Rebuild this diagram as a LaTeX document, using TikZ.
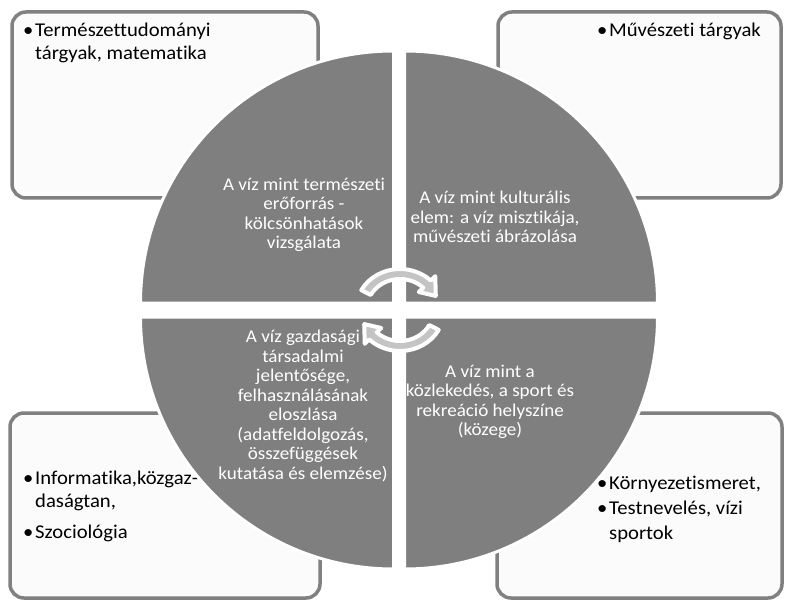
\documentclass[tikz,border=0pt]{standalone}
\usepackage{fontspec}
\setmainfont{Carlito}[FakeStretch=1.06,Ligatures=NoCommon]
\definecolor{qgray}{HTML}{7F7F7F}
\definecolor{bgray}{HTML}{808080}
\definecolor{boxfill}{HTML}{FBFBFB}
\definecolor{arrgray}{HTML}{C4C4C4}
\newcommand\bul{\makebox[12pt][l]{•}}
\newcommand\nob{\hspace*{12pt}}
\begin{document}
\begin{tikzpicture}[x=1pt,y=-1pt,
  corner/.style={draw=bgray, line width=3.5pt, fill=boxfill, rounded corners=14pt},
  quad/.style={fill=qgray, draw=white, line width=3pt},
  qtext/.style={text=white, align=center, font=\fontsize{18}{19.5}\selectfont, inner sep=0pt},
  btext/.style={text=black, align=left, font=\fontsize{19.5}{23}\selectfont, inner sep=0pt, anchor=north west},
  cyc/.style={fill=arrgray, draw=white, line width=4pt, line join=round}]
\useasboundingbox (0,0) rectangle (787,604);
% corner boxes
\draw[corner] (12,12) rectangle (318,198);
\draw[corner] (498,12) rectangle (781,198);
\draw[corner] (10,413) rectangle (320,598);
\draw[corner] (497,413) rectangle (782,598);
% box texts
\node[btext] (tl) at (23,23) {\bul Természettudományi\\\nob tárgyak, matematika};
\node[btext] (tr) at (597,23) {\bul Művészeti tárgyak};
\node[btext] (bl) at (23,471) {\bul Informatika,közgaz-\\\nob daságtan,\\[8pt]\bul Szociológia};
\node[btext] (br) at (597,476) {\bul Környezetismeret,\\[2pt]\bul Testnevelés, vízi\\[2pt]\nob sportok};
% quadrants
\path[quad] (393.5,303) -- ++(-253,0) arc[start angle=180,end angle=270,x radius=253,y radius=252] -- cycle;
\path[quad] (404.5,303) -- ++(0,-252) arc[start angle=270,end angle=360,x radius=253,y radius=252] -- cycle;
\path[quad] (404.5,317) -- ++(253,0) arc[start angle=0,end angle=90,x radius=253,y radius=252] -- cycle;
\path[quad] (393.5,317) -- ++(0,252) arc[start angle=90,end angle=180,x radius=253,y radius=252] -- cycle;
% quadrant texts
\node[qtext] (q1) at (304,215) {A víz mint természeti\\erőforrás -\\kölcsönhatások\\vizsgálata};
\node[qtext] (q2) at (495,217) {A víz mint kulturális\\elem: a víz misztikája,\\művészeti ábrázolása};
\node[qtext] (q3) at (303,406) {A víz gazdasági\\társadalmi\\jelentősége,\\felhasználásának\\eloszlása\\(adatfeldolgozás,\\összefüggések\\kutatása és elemzése)};
\node[qtext] (q4) at (490,402) {A víz mint a\\közlekedés, a sport és\\rekreáció helyszíne\\(közege)};
% cycle arrows
\begin{scope}[shift={(400,310)}, xscale=1.08, yscale=-1]
\path[cyc] (151:41) arc[start angle=151,end angle=46,radius=41] -- (46:47) -- (23:36) -- (46:25) -- (46:31) arc[start angle=46,end angle=151,radius=31] -- cycle;
\path[cyc] (-29:41) arc[start angle=-29,end angle=-134,radius=41] -- (-134:47) -- (-157:36) -- (-134:25) -- (-134:31) arc[start angle=-134,end angle=-29,radius=31] -- cycle;
\end{scope}
\end{tikzpicture}
\end{document}
